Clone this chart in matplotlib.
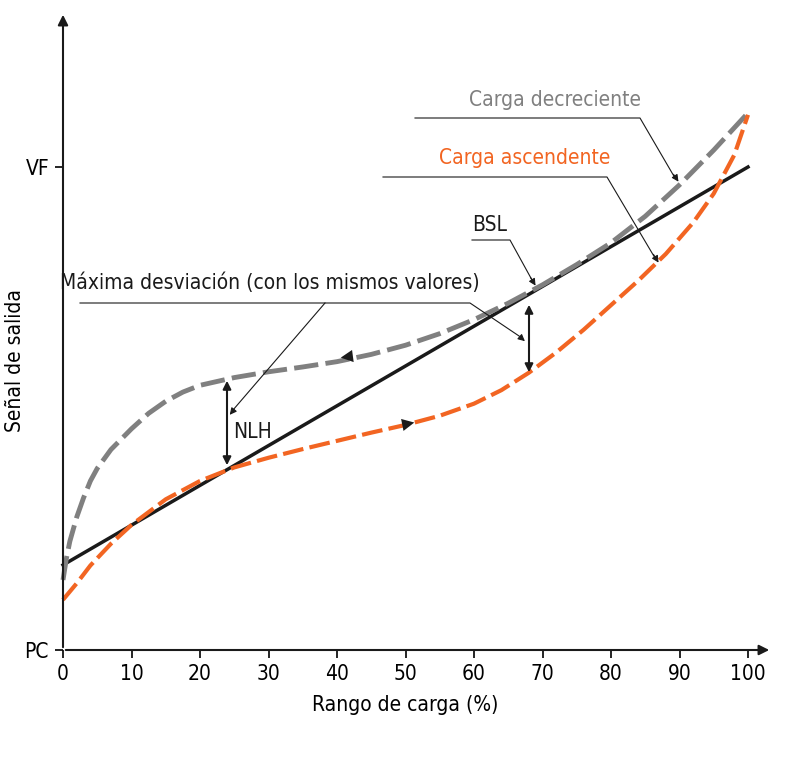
import matplotlib.pyplot as plt

# data (x: % load range, y: output signal, PC=0 .. VF=100)
x_desc = [0, 0.5, 1, 2, 3, 4, 5, 7, 10, 12.5, 15, 17.5, 20, 25, 30, 35, 40, 45, 50, 55, 60, 65, 70, 75, 80, 85, 90, 95, 100]
y_desc = [14.5, 19, 22.5, 27.5, 31.5, 35, 37.6, 41.5, 45.8, 49, 51.5, 53.4, 54.8, 56.4, 57.6, 58.6, 59.7, 61.2, 63.1, 65.5, 68.4, 71.8, 75.6, 79.8, 84.3, 89.8, 96.3, 103.5, 111.2]
x_asc = [0, 2, 4, 7, 10, 15, 20, 25, 30, 35, 40, 45, 50, 55, 60, 64, 68, 72, 76, 80, 84, 88, 92, 95, 98, 100]
y_asc = [10.4, 13.8, 17.5, 22, 25.9, 31.2, 35.0, 37.8, 39.8, 41.6, 43.3, 45.0, 46.6, 48.5, 51.0, 53.8, 57.4, 61.6, 66.3, 71.4, 76.5, 82.0, 88.5, 94.5, 102.5, 110.8]
x_bsl = [0, 100]
y_bsl = [17.6, 100]
xticks = list(range(0, 101, 10))

W, H = 788, 761
def px(x, y):
    return ((x - 63) / 6.85, (650 - y) / 4.83)

plt.rcParams['font.family'] = ['DejaVu Sans']
plt.rcParams['font.stretch'] = 'condensed'
fig = plt.figure(figsize=(W / 100, H / 100), dpi=100)
ax = fig.add_axes([63 / W, (H - 650) / H, 685 / W, 483 / H])
ax.set_xlim(0, 100)
ax.set_ylim(0, 100)
for s in ax.spines.values():
    s.set_visible(False)

gray = '#808080'
orange = '#f26522'
ax.plot(x_bsl, y_bsl, color='#1a1a1a', lw=2.5, clip_on=False)
ax.plot(x_desc, y_desc, color=gray, lw=3.5, ls=(0, (5, 1.5)), clip_on=False)
ax.plot(x_asc, y_asc, color=orange, lw=3, ls=(0, (5, 1.5)), clip_on=False)

# direction arrows on curves
ax.annotate('', xy=px(338, 358), xytext=px(368, 354),
            arrowprops=dict(arrowstyle='-|>', color='#1a1a1a', mutation_scale=22, lw=0))
ax.annotate('', xy=px(417, 422), xytext=px(387, 428),
            arrowprops=dict(arrowstyle='-|>', color='#1a1a1a', mutation_scale=22, lw=0))

# NLH double arrows
for xx, y0, y1 in [(227, 378, 468), (529, 302, 375)]:
    ax.annotate('', xy=px(xx, y0), xytext=px(xx, y1),
                arrowprops=dict(arrowstyle='<|-|>', color='#1a1a1a', lw=1.5, mutation_scale=12))

# axes arrows
ax.annotate('', xy=px(772, 650), xytext=px(63, 650), annotation_clip=False,
            arrowprops=dict(arrowstyle='-|>', color='#1a1a1a', lw=1.5, mutation_scale=15))
ax.annotate('', xy=px(63, 12), xytext=px(63, 650), annotation_clip=False,
            arrowprops=dict(arrowstyle='-|>', color='#1a1a1a', lw=1.5, mutation_scale=15))

ax.set_xticks(xticks)
ax.set_xticklabels([str(t) for t in xticks], fontsize=15)
ax.tick_params(axis='x', direction='out', length=6, width=1.2, pad=4)
ax.set_yticks([0, 100])
ax.set_yticklabels(['PC', 'VF'], fontsize=15)
ax.tick_params(axis='y', direction='out', length=6, width=1.2, pad=4)
ax.set_xlabel('Rango de carga (%)', fontsize=15, labelpad=8)
ax.set_ylabel('Señal de salida', fontsize=15)
ax.yaxis.set_label_coords(-0.055, 0.6)

def leader(pts, color='#1a1a1a'):
    d = [px(*p) for p in pts]
    ax.plot([p[0] for p in d], [p[1] for p in d], color=color, lw=0.8, clip_on=False)

def label(x, y, s, color='#1a1a1a'):
    ax.text(*px(x, y), s, fontsize=15, color=color, ha='center', va='center')

def tip(x1, y1, x0, y0):
    ax.annotate('', xy=px(x1, y1), xytext=px(x0, y0), annotation_clip=False,
                arrowprops=dict(arrowstyle='-|>', color='#1a1a1a', lw=0.8, mutation_scale=10))

label(555, 100, 'Carga decreciente', gray)
leader([(415, 118), (640, 118), (675, 178)])
tip(680, 184, 672, 172)
label(525, 158, 'Carga ascendente', orange)
leader([(383, 177), (607, 177), (655, 258)])
tip(660, 265, 652, 252)
label(490, 225, 'BSL')
leader([(472, 240), (510, 240), (532, 280)])
tip(537, 288, 529, 275)
label(270, 283, 'Máxima desviación (con los mismos valores)')
leader([(80, 303), (470, 303), (522, 338)])
tip(527, 343, 519, 336)
leader([(325, 303), (233, 410)])
tip(228, 417, 236, 407)
label(252, 432, 'NLH')

fig.savefig('out.png', dpi=100)
